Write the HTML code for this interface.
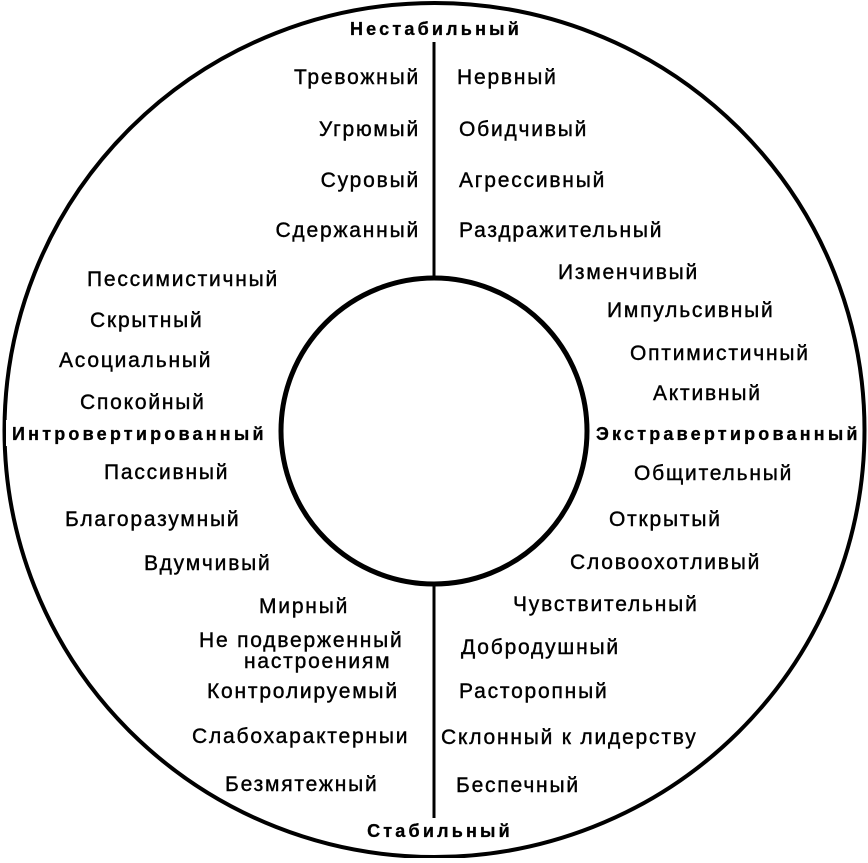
<!DOCTYPE html>
<html><head><meta charset="utf-8"><style>
html,body{margin:0;padding:0;background:#fff;}
svg text{font-family:"Liberation Sans",sans-serif;font-size:21px;letter-spacing:1.8px;fill:#000;stroke:#000;stroke-width:0.4px;}
.b{font-weight:bold;font-size:18px;letter-spacing:3.2px;stroke-width:0.3px;}
.r{text-anchor:end;}
.m{text-anchor:middle;}
</style></head><body>
<svg width="868" height="858" viewBox="0 0 868 858" xmlns="http://www.w3.org/2000/svg">
<ellipse cx="434.5" cy="430" rx="430" ry="427" fill="none" stroke="#000" stroke-width="4"/>
<circle cx="434" cy="431" r="153" fill="none" stroke="#000" stroke-width="5"/>
<line x1="434" y1="42" x2="434" y2="278" stroke="#000" stroke-width="3"/>
<line x1="434" y1="584" x2="434" y2="820" stroke="#000" stroke-width="3"/>
<rect x="345" y="15" width="180" height="26" fill="#fff"/>
<text class="b m" x="436" y="35">Нестабильный</text>
<rect x="365" y="818" width="150" height="26" fill="#fff"/>
<text class="b m" x="440" y="837">Стабильный</text>
<rect x="6" y="420" width="268" height="26" fill="#fff"/>
<text class="b" x="12" y="440">Интровертированный</text>
<rect x="594" y="420" width="268" height="26" fill="#fff"/>
<text class="b" x="596" y="440">Экстравертированный</text>

<text class="r" x="420" y="84">Тревожный</text>
<text class="r" x="420" y="136">Угрюмый</text>
<text class="r" x="420" y="187">Суровый</text>
<text class="r" x="420" y="237">Сдержанный</text>
<text x="87" y="286">Пессимистичный</text>
<text x="90" y="327">Скрытный</text>
<text x="59" y="367">Асоциальный</text>
<text x="80" y="409">Спокойный</text>
<text x="104" y="479">Пассивный</text>
<text x="65" y="526">Благоразумный</text>
<text x="144" y="570">Вдумчивый</text>
<text x="259" y="613">Мирный</text>
<text x="199" y="647">Не подверженный</text>
<text x="244" y="668">настроениям</text>
<text x="207" y="698">Контролируемый</text>
<text x="192" y="743">Слабохарактерныи</text>
<text x="225" y="791">Безмятежный</text>

<text x="457" y="84">Нервный</text>
<text x="459" y="136">Обидчивый</text>
<text x="459" y="187">Агрессивный</text>
<text x="459" y="237">Раздражительный</text>
<text x="558" y="279">Изменчивый</text>
<text x="607" y="317">Импульсивный</text>
<text x="630" y="360">Оптимистичный</text>
<text x="653" y="400">Активный</text>
<text x="634" y="480">Общительный</text>
<text x="609" y="526">Открытый</text>
<text x="570" y="569">Словоохотливый</text>
<text x="513" y="611">Чувствительный</text>
<text x="461" y="654">Добродушный</text>
<text x="459" y="698">Расторопный</text>
<text x="441" y="744">Склонный к лидерству</text>
<text x="456" y="792">Беспечный</text>
</svg>
</body></html>
